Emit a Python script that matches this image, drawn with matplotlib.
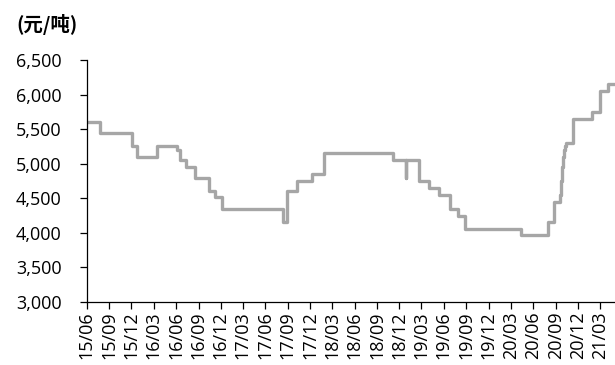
import datetime as dt
import matplotlib
matplotlib.use("Agg")
import matplotlib.pyplot as plt
import matplotlib.dates as mdates
from matplotlib.ticker import FuncFormatter, MultipleLocator

# Price level changes (date of change, price in 元/吨)
change_dates = [
    "2015-06-01", "2015-07-28", "2015-12-03", "2015-12-23", "2016-03-16",
    "2016-06-04", "2016-06-18", "2016-07-12", "2016-08-18", "2016-10-15",
    "2016-11-08", "2016-12-04", "2017-08-13", "2017-08-30", "2017-10-07",
    "2017-12-08", "2018-01-28", "2018-11-07", "2018-12-27", "2018-12-29",
    "2019-02-21", "2019-04-02", "2019-05-12", "2019-06-25", "2019-07-29",
    "2019-08-26", "2020-04-10", "2020-07-31", "2020-08-25", "2020-09-20",
    "2020-09-23", "2020-09-26", "2020-09-30", "2020-10-04", "2020-10-08",
    "2020-10-14", "2020-11-12", "2021-01-27", "2021-02-27", "2021-04-03",
    "2021-04-30",
]
prices = [
    5600, 5450, 5250, 5100, 5250,
    5200, 5050, 4950, 4800, 4600,
    4520, 4350, 4150, 4600, 4750,
    4850, 5150, 5050, 4800, 5050,
    4750, 4650, 4550, 4350, 4250,
    4050, 3970, 4150, 4450, 4550,
    4750, 4950, 5100, 5200, 5250,
    5300, 5650, 5750, 6050, 6150,
    6150,
]
unit_label = "(元/吨)"
y_min, y_max, y_step = 3000, 6500, 500
x_start, x_end = "2015-06-01", "2021-05-01"

dates = [dt.datetime.strptime(d, "%Y-%m-%d") for d in change_dates]

plt.rcParams["font.family"] = ["Open Sans", "DejaVu Sans"]

fig = plt.figure(figsize=(6.15, 3.65), dpi=100)
ax = fig.add_axes([0.1407, 0.1726, 0.8593, 0.663])

ax.step(dates, prices, where="post", color="#a6a6a6", linewidth=2.4,
        solid_joinstyle="round", solid_capstyle="round")

ax.set_ylim(y_min, y_max)
ax.yaxis.set_major_locator(MultipleLocator(y_step))
ax.yaxis.set_major_formatter(FuncFormatter(lambda v, p: f"{int(v):,}"))

ax.set_xlim(dt.datetime.strptime(x_start, "%Y-%m-%d"),
            dt.datetime.strptime(x_end, "%Y-%m-%d"))
ax.xaxis.set_major_locator(mdates.MonthLocator(bymonth=[3, 6, 9, 12]))
ax.xaxis.set_major_formatter(mdates.DateFormatter("%y/%m"))

for s in ("top", "right"):
    ax.spines[s].set_visible(False)
for s in ("left", "bottom"):
    ax.spines[s].set_color("black")
    ax.spines[s].set_linewidth(0.9)

ax.tick_params(axis="y", direction="out", length=5, width=0.9,
               labelsize=13, pad=13, colors="black")
ax.tick_params(axis="x", direction="out", length=5, width=0.9,
               labelsize=13, pad=2, colors="black", labelrotation=90)

fig.text(0.026, 0.932, unit_label, fontsize=14, fontweight="bold",
         family=["Noto Sans CJK SC", "DejaVu Sans"], va="center", ha="left")

fig.savefig("out.png", dpi=100)
